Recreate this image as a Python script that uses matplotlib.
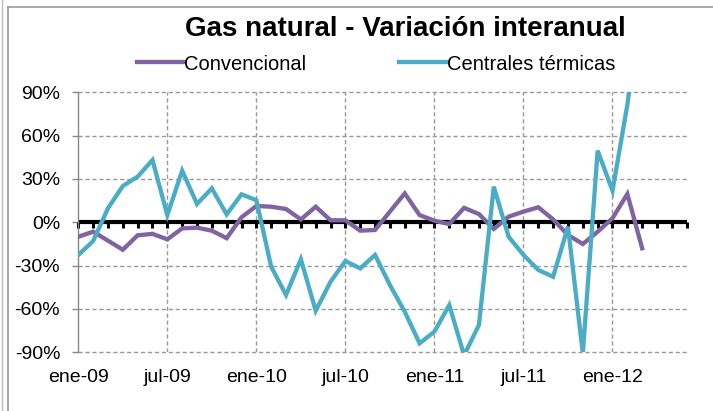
import numpy as np
import matplotlib
matplotlib.use('Agg')
import matplotlib.pyplot as plt
from matplotlib.lines import Line2D

plt.rcParams['font.family'] = ['Liberation Sans', 'DejaVu Sans']

# monthly year-on-year change (%), ene-09 .. mar-12
convencional = [-10, -6.5, -12.7, -19, -9, -8, -11.8, -4.2, -3.7, -5.8, -11, 3.5,
                11.3, 10.8, 9.2, 2, 10.8, 1.4, 1.4, -5.8, -5.3, 7.4, 20, 5,
                1.1, -1.2, 10, 5.7, -4.6, 3.9, 7.4, 10.4, 2, -8.8, -15, -6.5,
                2.8, 19.6, -18]
centrales = [-22.6, -13, 9.7, 25.1, 31.6, 43.1, 5, 35.7, 12.7, 23.5, 5.5, 19.4,
             15.3, -30.7, -50.3, -25.6, -61.2, -41.1, -26.8, -31.9, -22.6, -43.4, -61.9, -83.8,
             -75.7, -57.3, -92, -71.1, 24.7, -10, -22.6, -33, -37.7, -3, -90.5, 49.6,
             21.9, 81.2, 160]
n_months = 42  # ene-09 .. jun-12 on the category axis
tick_labels = ['ene-09', 'jul-09', 'ene-10', 'jul-10', 'ene-11', 'jul-11', 'ene-12']
y_ticks = [-90, -60, -30, 0, 30, 60, 90]

purple = '#8064A2'
teal = '#4BACC6'

fig = plt.figure(figsize=(7.13, 4.11), dpi=100)
ax = fig.add_axes([0.1098, 0.1428, 0.8533, 0.6326])

months = np.arange(n_months)

# grid
for v in y_ticks:
    ax.axhline(v, color='#999999', lw=1, dashes=(3, 2), zorder=1, clip_on=False)
for i in range(6, n_months, 6):
    ax.axvline(i, color='#999999', lw=1, dashes=(3, 2), zorder=1)

# zero axis with month tick marks
ax.axhline(0, color='black', lw=3, zorder=2)
ax.plot(months, np.zeros(n_months), ls='none', marker=3, ms=4, mew=2.2,
        color='black', zorder=2, clip_on=False)

ax.plot(np.arange(len(convencional)), convencional, color=purple, lw=3.1,
        label='Convencional', zorder=3, solid_joinstyle='miter')
ax.plot(np.arange(len(centrales)), centrales, color=teal, lw=3.1,
        label='Centrales térmicas', zorder=4, solid_joinstyle='miter')

ax.set_xlim(0, n_months - 1)
ax.set_ylim(-90, 90)

ax.set_yticks(y_ticks)
ax.set_yticklabels([f'{v}%' for v in y_ticks], fontsize=14)
ax.tick_params(axis='y', length=4.5, width=1, color='#888888', pad=8.5)
ax.set_xticks(range(0, 37, 6))
ax.set_xticklabels(tick_labels, fontsize=14)
ax.tick_params(axis='x', length=0, pad=12)

for s in ['top', 'right', 'bottom']:
    ax.spines[s].set_visible(False)
ax.spines['left'].set_color('#888888')
ax.spines['left'].set_linewidth(1)

fig.text(405 / 713, 1 - 29 / 411, 'Gas natural - Variación interanual',
         ha='center', va='center', fontsize=20, fontweight='bold')

fig.legend(loc='center', bbox_to_anchor=(376 / 713, 1 - 64 / 411), ncol=2,
           frameon=False, fontsize=14.5, handlelength=2.3, handletextpad=0.05,
           columnspacing=4.6)

# chart frame
fig.add_artist(Line2D([8 / 713, 8 / 713], [0, 1 - 7 / 411], color='#999999', lw=1.2))
fig.add_artist(Line2D([8 / 713, 1], [1 - 7 / 411, 1 - 7 / 411], color='#999999', lw=1.2))
fig.add_artist(Line2D([2 / 713, 2 / 713], [0, 1], color='#bbbbbb', lw=1))

fig.savefig('out.png', dpi=100, facecolor='white')
